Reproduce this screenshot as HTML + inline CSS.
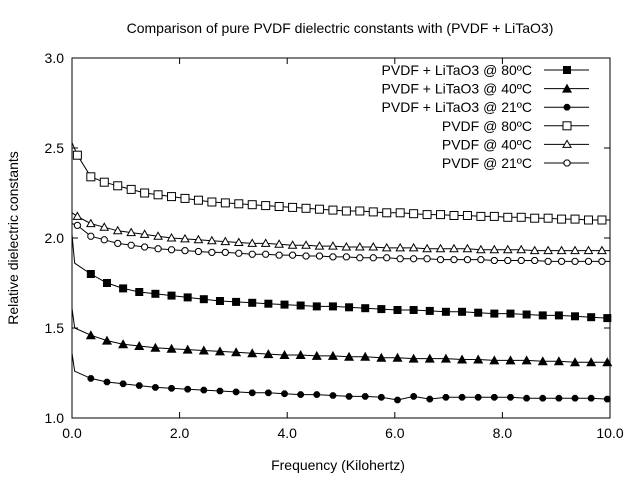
<!DOCTYPE html>
<html><head><meta charset="utf-8"><style>
body{margin:0;background:#fff}
svg text{font-family:"Liberation Sans",sans-serif;font-size:14px;fill:#000}
</style></head><body>
<svg id="c" width="640" height="480" xmlns="http://www.w3.org/2000/svg">
<rect width="640" height="480" fill="#fff"/>
<text x="340" y="33" text-anchor="middle">Comparison of pure PVDF dielectric constants with (PVDF + LiTaO3)</text>
<text x="338" y="470" text-anchor="middle">Frequency (Kilohertz)</text>
<text transform="translate(18,238) rotate(-90)" text-anchor="middle">Relative dielectric constants</text>
<g id="axes"></g><g id="series"></g><g id="legend"></g>
</svg>
<script>
const xTicks=[0,2,4,6,8,10];
const xTickLabels=["0.0","2.0","4.0","6.0","8.0","10.0"];
const yTicks=[1.0,1.5,2.0,2.5,3.0];
const yTickLabels=["1.0","1.5","2.0","2.5","3.0"];
const seriesNames=["PVDF + LiTaO3 @ 80ºC","PVDF + LiTaO3 @ 40ºC","PVDF + LiTaO3 @ 21ºC","PVDF @ 80ºC","PVDF @ 40ºC","PVDF @ 21ºC"];
const startL80=[2.02,1.86],startL40=[1.61,1.50],startL21=[1.36,1.26];
const startP80=[2.53],startP40=[2.14],startP21=[2.08];
const valsL80=[1.80,1.75,1.72,1.70,1.69,1.68,1.67,1.66,1.65,1.645,1.64,1.635,1.63,1.625,1.62,1.62,1.615,1.61,1.605,1.60,1.60,1.595,1.59,1.59,1.585,1.58,1.58,1.575,1.57,1.57,1.565,1.56,1.555];
const valsL40=[1.46,1.43,1.41,1.40,1.39,1.385,1.38,1.375,1.37,1.365,1.36,1.355,1.35,1.35,1.345,1.345,1.34,1.34,1.335,1.335,1.33,1.33,1.33,1.325,1.325,1.32,1.32,1.32,1.315,1.315,1.31,1.31,1.31];
const valsL21=[1.22,1.20,1.19,1.18,1.17,1.165,1.16,1.155,1.15,1.145,1.14,1.14,1.135,1.13,1.13,1.125,1.12,1.12,1.115,1.10,1.12,1.105,1.115,1.115,1.115,1.115,1.115,1.11,1.11,1.11,1.11,1.11,1.105];
const valsP80=[2.46,2.34,2.31,2.29,2.27,2.25,2.24,2.23,2.22,2.21,2.20,2.195,2.19,2.185,2.18,2.175,2.17,2.165,2.16,2.155,2.15,2.15,2.145,2.14,2.14,2.135,2.13,2.13,2.125,2.125,2.12,2.12,2.115,2.115,2.11,2.11,2.105,2.105,2.10,2.10];
const valsP40=[2.12,2.08,2.06,2.04,2.03,2.02,2.01,2.00,1.995,1.99,1.985,1.98,1.975,1.97,1.97,1.965,1.96,1.96,1.955,1.955,1.95,1.95,1.95,1.945,1.945,1.945,1.94,1.94,1.94,1.94,1.935,1.935,1.935,1.935,1.93,1.93,1.93,1.93,1.93,1.93];
const valsP21=[2.07,2.01,1.99,1.97,1.96,1.95,1.94,1.935,1.93,1.925,1.92,1.92,1.915,1.91,1.91,1.905,1.905,1.90,1.90,1.895,1.895,1.89,1.89,1.89,1.885,1.885,1.885,1.88,1.88,1.88,1.88,1.875,1.875,1.875,1.875,1.87,1.87,1.87,1.87,1.87];

const L=72,R=610,T=58,B=418;
const sx=v=>L+(v-0)/(10-0)*(R-L);
const sy=v=>B-(v-1)/(3-1)*(B-T);
const NS="http://www.w3.org/2000/svg";
function mk(tag,attrs,parent){const e=document.createElementNS(NS,tag);for(const k in attrs)e.setAttribute(k,attrs[k]);parent.appendChild(e);return e;}
const axes=document.getElementById('axes');
const fr=mk('rect',{x:L,y:T,width:R-L,height:B-T,fill:'none',stroke:'#000','stroke-width':1},axes);


xTicks.forEach((t,i)=>{const x=sx(t);
 mk('line',{x1:x,y1:B,x2:x,y2:B-6,stroke:'#000'},axes);
 mk('line',{x1:x,y1:T,x2:x,y2:T+6,stroke:'#000'},axes);
 const tx=mk('text',{x:x,y:B+20,'text-anchor':'middle'},axes);tx.textContent=xTickLabels[i];
 
 });
yTicks.forEach((t,i)=>{const y=sy(t);
 mk('line',{x1:L,y1:y,x2:L+6,y2:y,stroke:'#000'},axes);
 mk('line',{x1:R,y1:y,x2:R-6,y2:y,stroke:'#000'},axes);
 const tx=mk('text',{x:L-8,y:y+5,'text-anchor':'end'},axes);tx.textContent=yTickLabels[i];
 
 });

function oct(x,y,r){const a=r*0.42;return `${x-a},${y-r} ${x+a},${y-r} ${x+r},${y-a} ${x+r},${y+a} ${x+a},${y+r} ${x-a},${y+r} ${x-r},${y+a} ${x-r},${y-a}`;}
function marker(type,x,y,g){
 if(type==='fsq')mk('rect',{x:x-4,y:y-4,width:8,height:8,fill:'#000'},g);
 else if(type==='ftri')mk('polygon',{points:`${x},${y-5} ${x-5},${y+4} ${x+5},${y+4}`,fill:'#000'},g);
 else if(type==='fdot')mk('polygon',{points:oct(x,y,3.3),fill:'#000'},g);
 else if(type==='osq')mk('rect',{x:x-4,y:y-4,width:8,height:8,fill:'#fff',stroke:'#000'},g);
 else if(type==='otri')mk('polygon',{points:`${x},${y-4} ${x-4},${y+3} ${x+4},${y+3}`,fill:'#fff',stroke:'#000'},g);
 else if(type==='odot')mk('polygon',{points:oct(x,y,3),fill:'#fff',stroke:'#000'},g);
}
const sg=document.getElementById('series');
const defs=[
 {start:startL80,startX:[0,0.05],vals:valsL80,x0:0.35,step:0.3,m:'fsq',n:'series-pvdf-litao3-80c'},
 {start:startL40,startX:[0,0.05],vals:valsL40,x0:0.35,step:0.3,m:'ftri',n:'series-pvdf-litao3-40c'},
 {start:startL21,startX:[0,0.05],vals:valsL21,x0:0.35,step:0.3,m:'fdot',n:'series-pvdf-litao3-21c'},
 {start:startP80,startX:[0],vals:valsP80,x0:0.1,step:0.25,m:'osq',n:'series-pvdf-80c'},
 {start:startP40,startX:[0],vals:valsP40,x0:0.1,step:0.25,m:'otri',n:'series-pvdf-40c'},
 {start:startP21,startX:[0],vals:valsP21,x0:0.1,step:0.25,m:'odot',n:'series-pvdf-21c'}];
defs.forEach(d=>{
 const g=mk('g',{},sg);
 
 
 const pts=d.start.map((v,i)=>[sx(d.startX[i]),sy(v)]);
 d.vals.forEach((v,i)=>pts.push([sx(d.x0+i*d.step),sy(v)]));
 pts.push([R,sy(d.vals[d.vals.length-1])]);
 mk('polyline',{points:pts.map(p=>p.join(',')).join(' '),fill:'none',stroke:'#000','stroke-width':1},g);
 d.vals.forEach((v,i)=>marker(d.m,sx(d.x0+i*d.step),sy(v),g));
});
const lg=document.getElementById('legend');
seriesNames.forEach((nm,i)=>{
 const y=70+i*18.6;
 const g=mk('g',{},lg);
 
 
 const t=mk('text',{x:532,y:y+5,'text-anchor':'end'},g);t.textContent=nm;
 mk('line',{x1:544,y1:y,x2:589,y2:y,stroke:'#000'},g);
 marker(defs[i].m,567,y,g);
});
</script>
</body></html>
